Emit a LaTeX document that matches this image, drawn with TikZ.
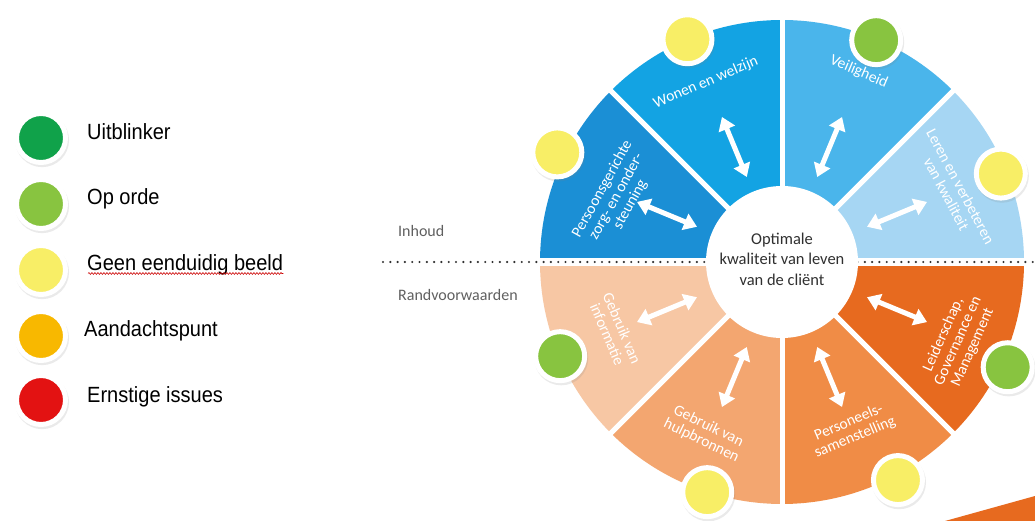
\documentclass[tikz,border=0pt]{standalone}
\usepackage{fontspec}
\setmainfont{Carlito}
\newfontfamily\legendfont[FakeStretch=0.91]{Liberation Sans}
\usetikzlibrary{arrows.meta,shadows,decorations.pathmorphing,calc}

\definecolor{segA}{HTML}{1B8FD5}
\definecolor{segB}{HTML}{13A3E3}
\definecolor{segC}{HTML}{4AB5EB}
\definecolor{segD}{HTML}{A6D6F3}
\definecolor{segE}{HTML}{F7C7A4}
\definecolor{segF}{HTML}{F3A670}
\definecolor{segG}{HTML}{F08C46}
\definecolor{segH}{HTML}{E76A1F}
\definecolor{topgreen}{HTML}{10A24A}
\definecolor{okgreen}{HTML}{88C440}
\definecolor{unclear}{HTML}{F8EE66}
\definecolor{attention}{HTML}{F8B800}
\definecolor{issue}{HTML}{E31212}
\definecolor{labelgray}{HTML}{606060}
\definecolor{coretext}{HTML}{303030}

\tikzset{
  status/.style={circle, fill=#1, draw=white, line width=5pt, minimum size=49pt, inner sep=0pt,
    drop shadow={opacity=0.16, shadow xshift=1pt, shadow yshift=-2pt, shadow scale=1.1}},
  seglabel/.style={text=white, align=center, font=\fontsize{15.5}{16}\selectfont, inner sep=0pt},
  twoway/.style={white, line width=5pt, {Triangle[length=13pt,width=17pt]}-{Triangle[length=13pt,width=17pt]}},
  legendtext/.style={anchor=base west, font=\legendfont\fontsize{22}{22}\selectfont, inner sep=0pt},
  sidetext/.style={anchor=base west, text=labelgray, font=\fontsize{16}{16}\selectfont, inner sep=0pt},
}

\begin{document}
\begin{tikzpicture}[x=1pt,y=1pt]
    % Page
    \useasboundingbox (0,0) rectangle (1035,521);
    \clip (0,0) rectangle (1035,521);
    \fill[white] (0,0) rectangle (1035,521);

    \coordinate (hub) at (782,259);

    % Wheel segments
    \foreach \a/\c in {135/segA, 90/segB, 45/segC, 0/segD, 180/segE, 225/segF, 270/segG, 315/segH}
        \fill[\c] (hub) -- ++(\a:242) arc[start angle=\a, delta angle=45, radius=242] -- cycle;

    % White gaps between the segments
    \foreach \a in {45,90,135,225,270,315}
        \draw[white, line width=5pt] (hub) -- ++(\a:250);
    \fill[white] ($(hub)+(-250,-4)$) rectangle ($(hub)+(250,4)$);

    % Dotted split line
    \coordinate (splitL) at (383,259);
    \coordinate (splitR) at (1035,259);
    \draw[coretext, line width=2.4pt, line cap=round, dash pattern=on 0pt off 7.3pt] (splitL) -- (splitR);

    % Centre
    \fill[white] (hub) circle[radius=76];
    \node[align=center, text=coretext, font=\fontsize{16.5}{20.5}\selectfont] (core) at (782,262)
        {Optimale\\kwaliteit van leven\\van de cli\"ent};

    % Arrows
    \foreach \a in {157.5,112.5,67.5,22.5,202.5,247.5,292.5,337.5} {
        \path (hub) ++(\a:92) coordinate (p) ++(\a:65) coordinate (q);
        \draw[twoway] (p) -- (q);
    }

    % Segment labels
    \node[seglabel, rotate=61] (lblpers) at ($(hub)+(158.5:178)$) {Persoonsgerichte\\zorg- en onder-\\steuning};
    \node[seglabel, rotate=23] (lblwonen) at ($(hub)+(113:195)$) {Wonen en welzijn};
    \node[seglabel, rotate=-23] (lblveil) at ($(hub)+(68:205)$) {Veiligheid};
    \node[seglabel, rotate=-62] (lblleren) at ($(hub)+(22.7:186)$) {Leren en verbeteren\\van kwaliteit};
    \node[seglabel, rotate=-67] (lblinfo) at ($(hub)+(202.5:181)$) {Gebruik van\\informatie};
    \node[seglabel, rotate=-26] (lblhulp) at ($(hub)+(245.8:188)$) {Gebruik van\\hulpbronnen};
    \node[seglabel, rotate=23] (lblstaf) at ($(hub)+(292.6:182)$) {Personeels-\\samenstelling};
    \node[seglabel, rotate=66] (lblleid) at ($(hub)+(335.8:193)$) {Leiderschap,\\Governance en\\Management};

    % Side labels
    \node[sidetext] (inhoud) at (398,284) {Inhoud};
    \node[sidetext] (rand) at (398,220) {Randvoorwaarden};

    % Corner wedge
    \fill[segH] (945,0) -- (1035,25) -- (1035,0) -- cycle;

    % Status dots on the rim
    \foreach \n/\a/\d/\c in {pers/154/250/unclear, wonen/113/242/unclear, veil/67/241/okgreen,
                            leren/22/236/unclear, info/203/241/okgreen, hulp/252/242/unclear,
                            staf/298/247/unclear, leid/335/249/okgreen}
        \node[status=\c] (dot\n) at ($(hub)+(\a:\d)$) {};

    % Legend
    \foreach \n/\c/\y in {1/topgreen/383, 2/okgreen/317, 3/unclear/251, 4/attention/185, 5/issue/121}
        \node[status=\c] (leg\n) at (41,\y) {};
    \node[legendtext] (legtop) at (87,381) {Uitblinker};
    \node[legendtext] (legok) at (87,316) {Op orde};
    \node[legendtext] (legunclear) at (87,250.5) {Geen eenduidig beeld};
    \node[legendtext] (legattn) at (84,184) {Aandachtspunt};
    \node[legendtext] (legissue) at (87,118) {Ernstige issues};

    % Spell-check squiggle
    \draw[red!80!black, line width=0.6pt, decorate, decoration={snake, amplitude=0.9pt, segment length=3pt}]
        ($(legunclear.base west)+(1,-3)$) -- ($(legunclear.base east)+(0,-3)$);

\end{tikzpicture}
\end{document}
